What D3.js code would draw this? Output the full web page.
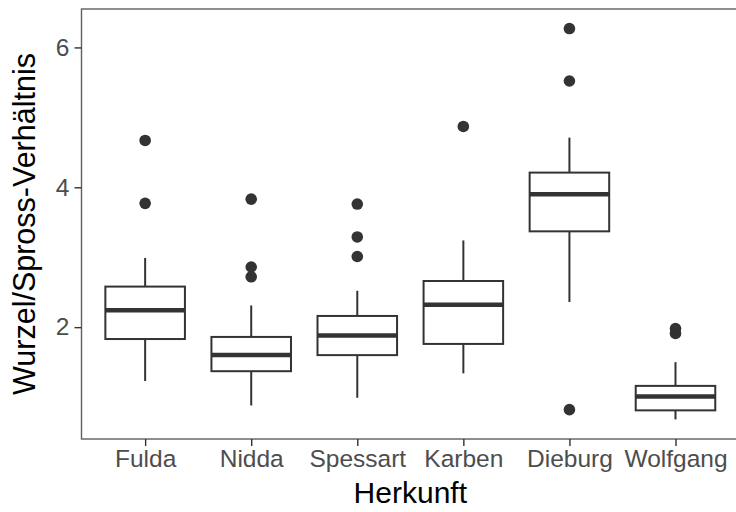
<!DOCTYPE html>
<html>
<head>
<meta charset="utf-8">
<script src="https://cdn.jsdelivr.net/npm/d3@7"></script>
<style>
  body { margin: 0; background: #fff; }
  svg { display: block; font-family: "Liberation Sans", Arial, sans-serif; }
</style>
</head>
<body>
<svg width="736" height="512"></svg>
<script>
// categories (Herkunft)
const sites = ['Fulda', 'Nidda', 'Spessart', 'Karben', 'Dieburg', 'Wolfgang']

// box stats
const whiskerLow  = [1.23, 0.88, 0.99, 1.34, 2.36, 0.68]
const q1          = [1.83, 1.37, 1.60, 1.76, 3.37, 0.81]
const median      = [2.24, 1.60, 1.88, 2.32, 3.90, 1.01]
const q3          = [2.58, 1.86, 2.16, 2.66, 4.21, 1.16]
const whiskerHigh = [2.99, 2.31, 2.52, 3.24, 4.71, 1.50]
const outliers    = [
  [4.67, 3.77],
  [3.83, 2.86, 2.72],
  [3.76, 3.29, 3.01],
  [4.87],
  [6.27, 5.52, 0.82],
  [1.98, 1.91]
]
const yTicks = [2, 4, 6]

const svg = d3.select('svg')
const width = 736, height = 512
const margin = { top: 9, left: 81.5, bottom: 73 }
const plotBottom = height - margin.bottom

/* Y SCALE, ggplot style 5% expansion */
const allVals = [...whiskerLow, ...whiskerHigh, ...outliers.flat()]
const [lo, hi] = d3.extent(allVals)
const pad = (hi - lo) * 0.05
const y = d3.scaleLinear()
  .domain([lo - pad, hi + pad])
  .range([plotBottom, margin.top])

/* X SCALE, discrete positions with 0.6 expansion */
const step = 106.07
const x = d3.scaleLinear()
  .domain([0.4, sites.length + 0.6])
  .range([margin.left, margin.left + step * (sites.length + 0.2)])
const boxW = step * 0.75

const ink = '#333333'

/* PANEL BORDER */
svg.append('rect')
  .attr('x', margin.left)
  .attr('y', margin.top)
  .attr('width', x.range()[1] - margin.left)
  .attr('height', plotBottom - margin.top)
  .attr('fill', 'none')
  .attr('stroke', '#5f5f5f')
  .attr('stroke-width', 1.4)

/* AXES */
const yAxis = d3.axisLeft(y)
  .tickValues(yTicks)
  .tickFormat(d3.format('d'))
  .tickSize(7)
  .tickPadding(5)
const gy = svg.append('g')
  .attr('transform', `translate(${margin.left}, 0)`)
  .call(yAxis)
gy.select('.domain').remove()

const xAxis = d3.axisBottom(x)
  .tickValues(d3.range(1, sites.length + 1))
  .tickFormat(i => sites[i - 1])
  .tickSize(7)
  .tickPadding(4)
const gx = svg.append('g')
  .attr('transform', `translate(0, ${plotBottom})`)
  .call(xAxis)
gx.select('.domain').remove()

svg.selectAll('.tick line')
  .attr('stroke', ink)
  .attr('stroke-width', 1.4)
svg.selectAll('.tick text')
  .attr('fill', '#4d4d4d')
  .style('font-size', '24.5px')

/* AXIS TITLES */
const panelMid = (margin.left + x.range()[1]) / 2
svg.append('text')
  .attr('x', panelMid)
  .attr('y', 503)
  .attr('text-anchor', 'middle')
  .style('font-size', '30px')
  .text('Herkunft')

svg.append('text')
  .attr('transform', `translate(35, ${(margin.top + plotBottom) / 2}) rotate(-90)`)
  .attr('text-anchor', 'middle')
  .style('font-size', '30.5px')
  .text('Wurzel/Spross-Verhältnis')

/* BOXES */
const boxes = svg.append('g')
  .selectAll('g')
  .data(sites)
  .enter().append('g')

boxes.append('line')
  .attr('x1', (d, i) => x(i + 1))
  .attr('x2', (d, i) => x(i + 1))
  .attr('y1', (d, i) => y(q3[i]))
  .attr('y2', (d, i) => y(whiskerHigh[i]))
  .attr('stroke', ink)
  .attr('stroke-width', 2)

boxes.append('line')
  .attr('x1', (d, i) => x(i + 1))
  .attr('x2', (d, i) => x(i + 1))
  .attr('y1', (d, i) => y(q1[i]))
  .attr('y2', (d, i) => y(whiskerLow[i]))
  .attr('stroke', ink)
  .attr('stroke-width', 2)

boxes.append('rect')
  .attr('x', (d, i) => x(i + 1) - boxW / 2)
  .attr('y', (d, i) => y(q3[i]))
  .attr('width', boxW)
  .attr('height', (d, i) => y(q1[i]) - y(q3[i]))
  .attr('fill', '#fff')
  .attr('stroke', ink)
  .attr('stroke-width', 2)

boxes.append('line')
  .attr('x1', (d, i) => x(i + 1) - boxW / 2)
  .attr('x2', (d, i) => x(i + 1) + boxW / 2)
  .attr('y1', (d, i) => y(median[i]))
  .attr('y2', (d, i) => y(median[i]))
  .attr('stroke', ink)
  .attr('stroke-width', 4.5)

/* OUTLIERS */
boxes.selectAll('circle')
  .data((d, i) => outliers[i].map(v => ({ i, v })))
  .enter().append('circle')
  .attr('cx', d => x(d.i + 1))
  .attr('cy', d => y(d.v))
  .attr('r', 5.8)
  .attr('fill', ink)
</script>
</body>
</html>
